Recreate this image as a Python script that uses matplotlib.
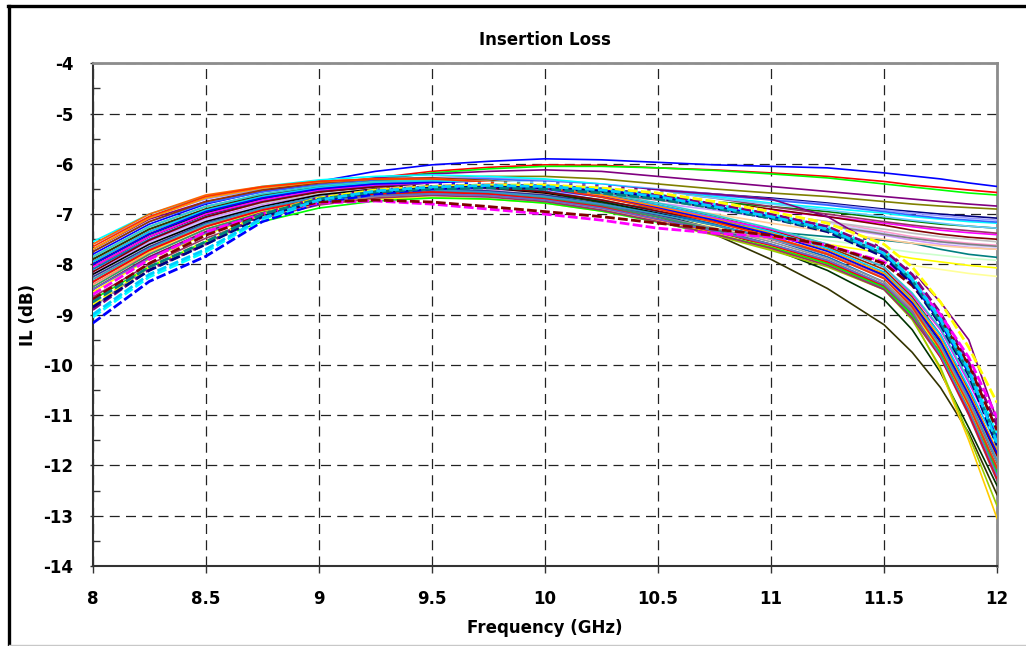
import matplotlib
matplotlib.use("Agg")
import matplotlib.pyplot as plt
from matplotlib.lines import Line2D

plt.rcParams['font.family'] = ['DejaVu Sans']
plt.rcParams['font.weight'] = 'bold'

# frequency points (GHz)
freq = [8, 8.25, 8.5, 8.75, 9, 9.25, 9.5, 9.75, 10, 10.25, 10.5, 10.75,
        11, 11.25, 11.5, 11.625, 11.75, 11.875, 12]

# curves that stay flat at the top end
flat_colors = ['#0000FF', '#FF0000', '#00FF00', '#800080', '#808000', '#000080',
               '#9999FF', '#00FFFF', '#FF00FF', '#800000', '#008000', '#FF99CC',
               '#CC99FF', '#008080', '#FFFF00', '#FFFF99', '#CCFFCC', '#3366FF',
               '#C0C0C0', '#FFCC99', '#993366', '#CCCCFF', '#66CCFF', '#808080']
flat_il = [
    [-7.80, -7.20, -6.80, -6.55, -6.35, -6.15, -6.02, -5.95, -5.90, -5.92, -5.97, -6.02, -6.05, -6.08, -6.18, -6.24, -6.30, -6.38, -6.45],
    [-7.95, -7.35, -6.92, -6.65, -6.45, -6.28, -6.15, -6.07, -6.02, -6.03, -6.08, -6.12, -6.18, -6.25, -6.35, -6.42, -6.47, -6.52, -6.57],
    [-8.10, -7.45, -7.00, -6.72, -6.50, -6.32, -6.18, -6.10, -6.05, -6.05, -6.08, -6.13, -6.20, -6.28, -6.40, -6.46, -6.52, -6.58, -6.62],
    [-7.70, -7.10, -6.75, -6.55, -6.40, -6.28, -6.20, -6.15, -6.12, -6.15, -6.25, -6.35, -6.45, -6.55, -6.65, -6.70, -6.75, -6.80, -6.84],
    [-7.85, -7.25, -6.85, -6.62, -6.45, -6.35, -6.28, -6.25, -6.25, -6.30, -6.40, -6.50, -6.58, -6.65, -6.75, -6.80, -6.84, -6.87, -6.90],
    [-8.00, -7.40, -6.95, -6.70, -6.52, -6.42, -6.38, -6.38, -6.40, -6.45, -6.52, -6.60, -6.68, -6.78, -6.90, -6.95, -7.00, -7.04, -7.08],
    [-7.60, -7.05, -6.70, -6.50, -6.38, -6.30, -6.27, -6.28, -6.32, -6.40, -6.50, -6.60, -6.70, -6.80, -6.92, -6.98, -7.03, -7.08, -7.12],
    [-7.55, -7.00, -6.65, -6.45, -6.32, -6.25, -6.22, -6.25, -6.30, -6.40, -6.52, -6.65, -6.78, -6.88, -6.98, -7.05, -7.10, -7.15, -7.18],
    [-8.20, -7.55, -7.10, -6.82, -6.62, -6.50, -6.45, -6.45, -6.50, -6.58, -6.68, -6.80, -6.92, -7.05, -7.18, -7.25, -7.32, -7.37, -7.41],
    [-8.05, -7.45, -7.02, -6.75, -6.56, -6.45, -6.40, -6.40, -6.45, -6.52, -6.62, -6.75, -6.90, -7.05, -7.22, -7.32, -7.40, -7.46, -7.50],
    [-7.90, -7.30, -6.90, -6.65, -6.50, -6.42, -6.38, -6.40, -6.45, -6.55, -6.65, -6.75, -6.85, -6.95, -7.08, -7.14, -7.20, -7.24, -7.28],
    [-8.30, -7.65, -7.18, -6.90, -6.70, -6.58, -6.52, -6.52, -6.55, -6.62, -6.72, -6.85, -7.00, -7.15, -7.35, -7.45, -7.52, -7.58, -7.62],
    [-8.15, -7.55, -7.10, -6.82, -6.63, -6.52, -6.48, -6.50, -6.55, -6.65, -6.78, -6.92, -7.08, -7.25, -7.42, -7.52, -7.60, -7.66, -7.70],
    [-8.35, -7.70, -7.20, -6.90, -6.70, -6.58, -6.52, -6.55, -6.62, -6.75, -6.90, -7.10, -7.35, -7.45, -7.52, -7.58, -7.70, -7.80, -7.86],
    [-8.40, -7.75, -7.25, -6.95, -6.75, -6.62, -6.58, -6.60, -6.68, -6.80, -6.98, -7.18, -7.40, -7.60, -7.78, -7.88, -7.95, -8.02, -8.07],
    [-8.45, -7.80, -7.30, -7.00, -6.80, -6.68, -6.62, -6.65, -6.72, -6.85, -7.02, -7.25, -7.50, -7.72, -7.92, -8.02, -8.10, -8.18, -8.24],
    [-8.25, -7.60, -7.15, -6.88, -6.70, -6.60, -6.55, -6.58, -6.65, -6.78, -6.95, -7.15, -7.35, -7.52, -7.68, -7.76, -7.82, -7.88, -7.92],
    [-7.75, -7.15, -6.78, -6.56, -6.42, -6.33, -6.30, -6.30, -6.35, -6.42, -6.52, -6.62, -6.72, -6.82, -6.95, -7.02, -7.08, -7.12, -7.16],
    [-8.10, -7.50, -7.05, -6.78, -6.60, -6.50, -6.45, -6.46, -6.50, -6.58, -6.70, -6.85, -7.00, -7.15, -7.30, -7.38, -7.45, -7.50, -7.55],
    [-8.30, -7.65, -7.18, -6.90, -6.72, -6.60, -6.55, -6.56, -6.60, -6.70, -6.85, -7.00, -7.18, -7.35, -7.50, -7.58, -7.63, -7.67, -7.70],
    [-7.95, -7.35, -6.92, -6.66, -6.48, -6.38, -6.33, -6.33, -6.38, -6.45, -6.55, -6.68, -6.85, -7.00, -7.15, -7.22, -7.28, -7.33, -7.38],
    [-8.20, -7.58, -7.12, -6.84, -6.64, -6.52, -6.46, -6.46, -6.50, -6.58, -6.70, -6.84, -7.00, -7.18, -7.38, -7.48, -7.56, -7.62, -7.66],
    [-7.85, -7.25, -6.85, -6.60, -6.45, -6.36, -6.32, -6.33, -6.38, -6.46, -6.56, -6.68, -6.80, -6.92, -7.05, -7.12, -7.18, -7.24, -7.28],
    [-8.00, -7.40, -6.98, -6.72, -6.55, -6.45, -6.40, -6.42, -6.48, -6.58, -6.72, -6.88, -7.05, -7.22, -7.40, -7.48, -7.55, -7.60, -7.64],
]

# solid curves that roll off above 11 GHz
drop_colors = ['#000000', '#333300', '#003300', '#FFCC00', '#99CC00', '#FF6600',
               '#0066CC', '#FF8080', '#993300', '#333399', '#00CCFF', '#FF00FF',
               '#800000', '#969696', '#FF9900', '#666699', '#339966', '#0000FF',
               '#FFFF00', '#00FF00', '#33CCCC', '#800080', '#3399CC', '#993366',
               '#FF0000', '#FF3300', '#6666CC']
drop_il = [
    [-8.20, -7.60, -7.15, -6.85, -6.62, -6.50, -6.45, -6.48, -6.58, -6.75, -6.98, -7.22, -7.48, -7.80, -8.25, -8.80, -9.55, -10.70, -12.00],
    [-7.90, -7.30, -6.90, -6.62, -6.45, -6.35, -6.32, -6.40, -6.55, -6.78, -7.05, -7.40, -7.90, -8.48, -9.20, -9.75, -10.45, -11.35, -12.58],
    [-8.00, -7.40, -6.98, -6.70, -6.52, -6.42, -6.40, -6.45, -6.56, -6.75, -7.00, -7.30, -7.68, -8.12, -8.70, -9.30, -10.15, -11.25, -12.40],
    [-8.30, -7.70, -7.22, -6.90, -6.70, -6.58, -6.55, -6.60, -6.70, -6.88, -7.10, -7.38, -7.70, -8.00, -8.45, -9.05, -10.10, -11.50, -13.05],
    [-8.50, -7.85, -7.35, -7.00, -6.78, -6.65, -6.60, -6.64, -6.74, -6.92, -7.15, -7.42, -7.72, -8.05, -8.50, -9.10, -10.05, -11.40, -12.80],
    [-7.60, -7.00, -6.62, -6.45, -6.35, -6.30, -6.30, -6.36, -6.48, -6.65, -6.88, -7.15, -7.45, -7.78, -8.25, -8.80, -9.60, -10.70, -11.90],
    [-8.10, -7.50, -7.05, -6.75, -6.55, -6.45, -6.42, -6.46, -6.55, -6.72, -6.95, -7.20, -7.50, -7.85, -8.35, -8.92, -9.70, -10.85, -12.10],
    [-8.40, -7.78, -7.30, -6.98, -6.76, -6.64, -6.60, -6.63, -6.72, -6.88, -7.12, -7.30, -7.50, -7.80, -8.25, -8.78, -9.50, -10.60, -11.85],
    [-7.75, -7.15, -6.75, -6.52, -6.38, -6.30, -6.28, -6.33, -6.44, -6.60, -6.82, -7.05, -7.32, -7.65, -8.10, -8.65, -9.40, -10.50, -11.75],
    [-8.25, -7.65, -7.18, -6.88, -6.66, -6.54, -6.50, -6.54, -6.62, -6.80, -7.02, -7.30, -7.60, -7.95, -8.45, -9.00, -9.80, -10.95, -12.20],
    [-7.95, -7.35, -6.92, -6.65, -6.47, -6.37, -6.34, -6.38, -6.47, -6.62, -6.82, -7.06, -7.35, -7.68, -8.15, -8.70, -9.40, -10.45, -11.60],
    [-8.05, -7.45, -7.00, -6.72, -6.52, -6.42, -6.38, -6.40, -6.48, -6.62, -6.85, -7.08, -7.30, -7.60, -8.05, -8.60, -9.30, -10.35, -11.45],
    [-8.15, -7.52, -7.06, -6.76, -6.56, -6.46, -6.43, -6.47, -6.56, -6.72, -6.94, -7.15, -7.40, -7.72, -8.20, -8.75, -9.50, -10.60, -11.80],
    [-8.85, -8.05, -7.60, -7.05, -6.74, -6.62, -6.58, -6.60, -6.68, -6.85, -7.05, -7.28, -7.55, -7.88, -8.35, -8.90, -9.65, -10.75, -12.00],
    [-7.70, -7.08, -6.68, -6.48, -6.36, -6.30, -6.30, -6.35, -6.45, -6.62, -6.85, -7.10, -7.38, -7.72, -8.18, -8.72, -9.47, -10.55, -11.70],
    [-8.35, -7.72, -7.24, -6.92, -6.70, -6.58, -6.54, -6.57, -6.65, -6.82, -7.05, -7.32, -7.62, -7.98, -8.48, -9.05, -9.80, -10.92, -12.15],
    [-8.45, -7.80, -7.30, -6.97, -6.74, -6.62, -6.57, -6.60, -6.68, -6.84, -7.06, -7.32, -7.60, -7.92, -8.40, -8.95, -9.73, -10.85, -12.05],
    [-8.00, -7.40, -6.95, -6.68, -6.50, -6.40, -6.37, -6.40, -6.50, -6.66, -6.88, -7.12, -7.40, -7.74, -8.22, -8.77, -9.53, -10.60, -11.75],
    [-8.55, -7.90, -7.40, -7.02, -6.80, -6.70, -6.67, -6.70, -6.78, -6.94, -7.15, -7.40, -7.65, -7.95, -8.40, -8.95, -9.70, -10.85, -12.20],
    [-8.70, -8.05, -7.55, -7.15, -6.88, -6.74, -6.68, -6.70, -6.78, -6.94, -7.16, -7.40, -7.66, -7.98, -8.45, -9.01, -9.77, -10.90, -12.15],
    [-7.85, -7.25, -6.85, -6.60, -6.44, -6.35, -6.32, -6.35, -6.43, -6.58, -6.78, -7.02, -7.28, -7.60, -8.05, -8.57, -9.27, -10.30, -11.40],
    [-8.50, -7.85, -7.35, -6.98, -6.72, -6.55, -6.45, -6.40, -6.40, -6.45, -6.52, -6.60, -6.70, -7.05, -7.70, -8.15, -8.75, -9.50, -11.10],
    [-8.30, -7.68, -7.20, -6.88, -6.66, -6.55, -6.52, -6.56, -6.65, -6.80, -7.00, -7.22, -7.48, -7.80, -8.28, -8.85, -9.60, -10.68, -11.90],
    [-8.65, -8.00, -7.48, -7.08, -6.82, -6.68, -6.63, -6.66, -6.75, -6.92, -7.15, -7.40, -7.68, -8.02, -8.50, -9.07, -9.85, -11.00, -12.30],
    [-8.35, -7.72, -7.25, -6.92, -6.70, -6.60, -6.56, -6.60, -6.70, -6.86, -7.10, -7.35, -7.62, -7.95, -8.42, -8.95, -9.85, -10.95, -12.25],
    [-7.65, -7.05, -6.65, -6.46, -6.35, -6.30, -6.30, -6.36, -6.48, -6.66, -6.90, -7.16, -7.45, -7.80, -8.28, -8.85, -9.70, -10.80, -12.05],
    [-8.50, -7.88, -7.38, -7.00, -6.76, -6.64, -6.60, -6.63, -6.72, -6.88, -7.10, -7.34, -7.60, -7.92, -8.40, -8.95, -9.82, -10.90, -12.20],
]

# dashed curves
dash_colors = ['#0000FF', '#00FFFF', '#FFFFFF', '#800080', '#FFFF00', '#FF00FF',
               '#800000', '#000080', '#008080', '#00CCFF']
dash_il = [
    [-9.17, -8.34, -7.84, -7.15, -6.78, -6.60, -6.50, -6.45, -6.45, -6.52, -6.65, -6.85, -7.05, -7.30, -7.80, -8.35, -9.15, -10.15, -11.45],
    [-9.05, -8.25, -7.75, -7.10, -6.74, -6.55, -6.46, -6.42, -6.42, -6.48, -6.60, -6.80, -7.00, -7.25, -7.72, -8.25, -9.05, -10.05, -11.35],
    [-8.95, -8.15, -7.65, -7.05, -6.70, -6.52, -6.42, -6.38, -6.38, -6.44, -6.56, -6.75, -6.95, -7.20, -7.65, -8.15, -8.95, -9.95, -11.25],
    [-8.90, -8.10, -7.60, -7.00, -6.68, -6.52, -6.45, -6.42, -6.44, -6.50, -6.62, -6.80, -7.00, -7.25, -7.72, -8.20, -8.97, -9.95, -11.20],
    [-8.80, -8.05, -7.55, -7.00, -6.68, -6.52, -6.45, -6.42, -6.42, -6.48, -6.58, -6.75, -6.95, -7.18, -7.60, -8.05, -8.75, -9.65, -10.75],
    [-8.60, -7.90, -7.35, -7.00, -6.78, -6.74, -6.80, -6.90, -7.00, -7.12, -7.28, -7.38, -7.45, -7.62, -7.95, -8.35, -9.00, -9.85, -11.05],
    [-8.70, -7.98, -7.42, -7.02, -6.76, -6.72, -6.76, -6.85, -6.95, -7.05, -7.18, -7.30, -7.42, -7.62, -7.98, -8.42, -9.10, -10.00, -11.30],
    [-8.85, -8.12, -7.60, -7.05, -6.72, -6.56, -6.48, -6.46, -6.48, -6.55, -6.68, -6.88, -7.08, -7.35, -7.85, -8.38, -9.20, -10.20, -11.60],
    [-8.75, -8.05, -7.55, -7.00, -6.70, -6.56, -6.50, -6.48, -6.50, -6.58, -6.70, -6.88, -7.08, -7.32, -7.80, -8.32, -9.15, -10.15, -11.50],
    [-9.00, -8.20, -7.70, -7.08, -6.72, -6.54, -6.46, -6.43, -6.45, -6.52, -6.65, -6.85, -7.05, -7.30, -7.78, -8.30, -9.10, -10.10, -11.55],
]

x_ticks = [8, 8.5, 9, 9.5, 10, 10.5, 11, 11.5, 12]
x_labels = ['8', '8.5', '9', '9.5', '10', '10.5', '11', '11.5', '12']
y_ticks = [-4, -5, -6, -7, -8, -9, -10, -11, -12, -13, -14]
y_labels = ['-4', '-5', '-6', '-7', '-8', '-9', '-10', '-11', '-12', '-13', '-14']

fig = plt.figure(figsize=(10.26, 6.46), dpi=100)
ax = fig.add_axes([92.7 / 1026, 1 - 566 / 646, (997 - 92.7) / 1026, (566 - 63.3) / 646])

for c, v in zip(flat_colors, flat_il):
    ax.plot(freq, v, color=c, lw=1.2, zorder=3)
for c, v in zip(drop_colors, drop_il):
    ax.plot(freq, v, color=c, lw=1.2, zorder=3)
for c, v in zip(dash_colors, dash_il):
    ax.plot(freq, v, color=c, lw=2.0, dashes=(3.5, 1.2), zorder=4)

ax.set_xlim(8, 12)
ax.set_ylim(-14, -4)
ax.set_xticks(x_ticks)
ax.set_xticklabels(x_labels, fontsize=12, fontweight='bold')
ax.set_yticks(y_ticks)
ax.set_yticklabels(y_labels, fontsize=12, fontweight='bold')
ax.set_yticks([-4.5, -5.5, -6.5, -7.5, -8.5, -9.5, -10.5, -11.5, -12.5, -13.5], minor=True)
ax.tick_params(axis='x', direction='out', length=5, width=1, color='#333333', pad=12)
ax.tick_params(axis='y', which='major', direction='out', length=2, width=1, color='#333333', pad=12)
ax.tick_params(axis='y', which='minor', direction='in', length=5, width=1, color='#333333')

ax.grid(True, which='major', color='#222222', lw=0.9, dashes=(8, 5), zorder=1)
ax.set_axisbelow(True)

ax.spines['left'].set_color('#333333')
ax.spines['bottom'].set_color('#333333')
ax.spines['left'].set_linewidth(1.5)
ax.spines['bottom'].set_linewidth(1.5)
ax.spines['top'].set_color('#8c8c8c')
ax.spines['right'].set_color('#8c8c8c')
ax.spines['top'].set_linewidth(2)
ax.spines['right'].set_linewidth(2)

fig.text(545 / 1026, 1 - 40 / 646, 'Insertion Loss', ha='center', va='center', fontsize=12, fontweight='bold')
fig.text(545 / 1026, 1 - 628 / 646, 'Frequency (GHz)', ha='center', va='center', fontsize=12, fontweight='bold')
fig.text(28 / 1026, 1 - 315 / 646, 'IL (dB)', ha='center', va='center', rotation=90, fontsize=12, fontweight='bold')

# outer chart border (black left/top, light grey bottom)
fig.add_artist(Line2D([9 / 1026, 9 / 1026], [0, 1 - 6 / 646], color='black', lw=2.4, transform=fig.transFigure))
fig.add_artist(Line2D([7.8 / 1026, 1], [1 - 6.3 / 646, 1 - 6.3 / 646], color='black', lw=2.4, transform=fig.transFigure))
fig.add_artist(Line2D([9 / 1026, 1], [1.5 / 646, 1.5 / 646], color='#c8c8c8', lw=1, transform=fig.transFigure))

fig.savefig('out.png', dpi=100)
